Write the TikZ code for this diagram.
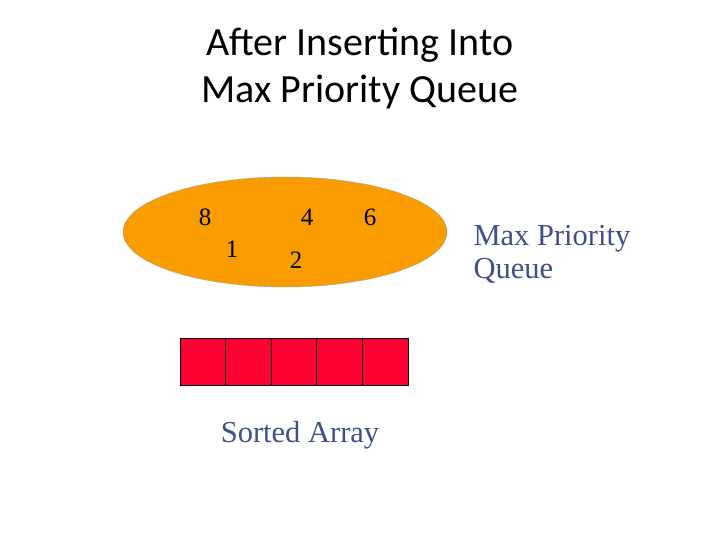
\documentclass[tikz,border=0pt]{standalone}
\usepackage{fontspec}
\usetikzlibrary{shapes.geometric}
\setmainfont{Liberation Serif}
\newfontfamily\titlefont{Carlito}
\begin{document}
\begin{tikzpicture}[x=1pt,y=-1pt,
  num/.style={font=\fontsize{25}{25}\selectfont},
  lbl/.style={font=\fontsize{30.5}{33}\selectfont,text=lblc,anchor=west,align=left},
  cellbox/.style={draw=black,line width=1pt,fill=cellred,minimum width=45.6pt,minimum height=47pt,inner sep=0pt}]
\definecolor{orng}{HTML}{F99C00}
\definecolor{lblc}{HTML}{3F4F8A}
\definecolor{cellred}{HTML}{FF0033}
\useasboundingbox (0,0) rectangle (720,540);
\node[font=\titlefont\fontsize{40}{47}\selectfont,align=center] (title) at (360,68) {After Inserting Into\\Max Priority Queue};
\node[ellipse,draw=gray!70,fill=orng,minimum width=324pt,minimum height=110pt,inner sep=0pt] (pq) at (285,232) {};
\node[num] (n8) at (205,217) {8};
\node[num] (n4) at (307,217) {4};
\node[num] (n6) at (370,217) {6};
\node[num] (n1) at (232,249) {1};
\node[num] (n2) at (296,260) {2};
\node[lbl] (pql) at (470,254) {Max Priority\\Queue};
\foreach \i in {0,...,4}{
  \node[cellbox] (c\i) at (202.8+45.6*\i,361.5) {};
}
\node[lbl,anchor=center] (sa) at (300,435) {Sorted Array};
\end{tikzpicture}
\end{document}
